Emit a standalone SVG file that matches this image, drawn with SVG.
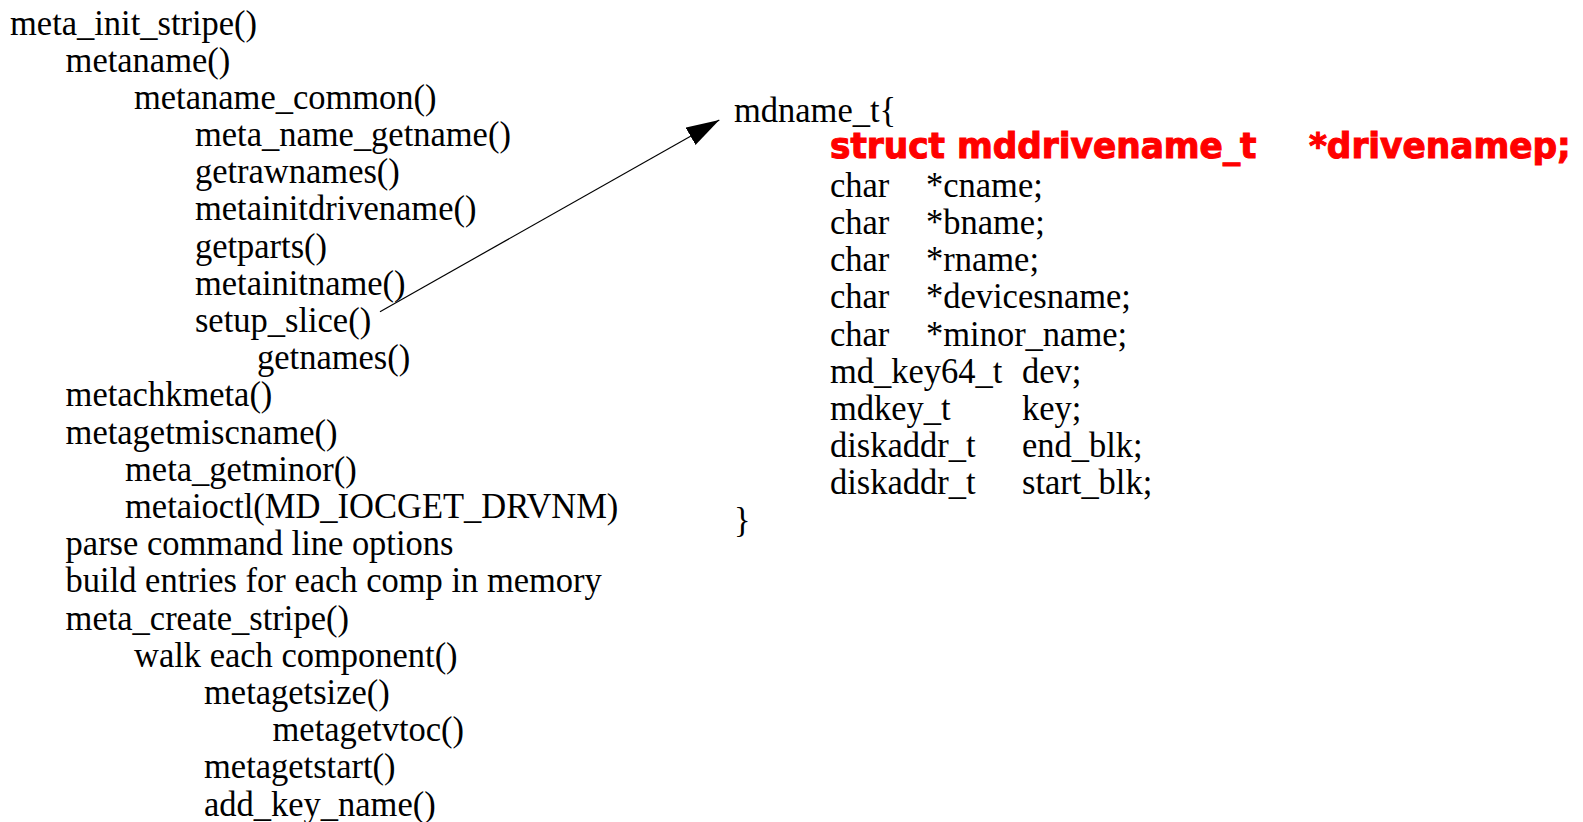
<svg xmlns="http://www.w3.org/2000/svg" width="1583" height="822" viewBox="0 0 1583 822">
  <style>
    .t { font-family: "Liberation Serif", "Times New Roman", serif; font-size: 36.5px; fill: #000; }
    .hl { font-family: "DejaVu Sans", "Liberation Sans", sans-serif; font-weight: bold; font-size: 36px; fill: #ff0000; stroke: #ff0000; stroke-width: 1.1px; }
    .conn { stroke: #000; stroke-width: 1.2; fill: none; }
  </style>
  <defs>
    <marker id="arrowhead" markerUnits="userSpaceOnUse" markerWidth="34" markerHeight="21" refX="33" refY="10" orient="auto">
      <path d="M0,0 L33,10 L0,20 Z" fill="#000"/>
    </marker>
  </defs>
  <rect width="1583" height="822" fill="#fff"/>

  <!-- call tree (condensed serif: x coordinates are pre-divided by 0.945) -->
  <g id="call-tree" transform="translate(0 2.5) scale(0.945 1)">
    <g id="n-meta-init-stripe"><text class="t" x="10.6" y="32">meta_init_stripe()</text></g>
    <g id="n-metaname"><text class="t" x="69.4" y="69.2">metaname()</text></g>
    <g id="n-metaname-common"><text class="t" x="141.8" y="106.4">metaname_common()</text></g>
    <g id="n-meta-name-getname"><text class="t" x="206.3" y="143.6">meta_name_getname()</text></g>
    <g id="n-getrawnames"><text class="t" x="206.3" y="180.8">getrawnames()</text></g>
    <g id="n-metainitdrivename"><text class="t" x="206.3" y="218">metainitdrivename()</text></g>
    <g id="n-getparts"><text class="t" x="206.3" y="255.2">getparts()</text></g>
    <g id="n-metainitname"><text class="t" x="206.3" y="292.4">metainitname()</text></g>
    <g id="n-setup-slice"><text class="t" x="206.3" y="329.6">setup_slice()</text></g>
    <g id="n-getnames"><text class="t" x="272" y="366.8">getnames()</text></g>
    <g id="n-metachkmeta"><text class="t" x="69.4" y="404">metachkmeta()</text></g>
    <g id="n-metagetmiscname"><text class="t" x="69.4" y="441.2">metagetmiscname()</text></g>
    <g id="n-meta-getminor"><text class="t" x="132.3" y="478.4">meta_getminor()</text></g>
    <g id="n-metaioctl"><text class="t" x="132.3" y="515.6">metaioctl(MD_IOCGET_DRVNM)</text></g>
    <g id="n-parse-options"><text class="t" x="69.4" y="552.8">parse command line options</text></g>
    <g id="n-build-entries"><text class="t" x="69.4" y="590">build entries for each comp in memory</text></g>
    <g id="n-meta-create-stripe"><text class="t" x="69.4" y="627.2">meta_create_stripe()</text></g>
    <g id="n-walk-component"><text class="t" x="141.8" y="664.4">walk each component()</text></g>
    <g id="n-metagetsize"><text class="t" x="215.9" y="701.6">metagetsize()</text></g>
    <g id="n-metagetvtoc"><text class="t" x="288.4" y="738.8">metagetvtoc()</text></g>
    <g id="n-metagetstart"><text class="t" x="215.9" y="776">metagetstart()</text></g>
    <g id="n-add-key-name"><text class="t" x="215.9" y="813.2">add_key_name()</text></g>
  </g>

  <!-- mdname_t structure -->
  <g id="n-mdname-t">
    <g transform="translate(0 2) scale(0.945 1)">
      <text class="t" x="776.7" y="120.5">mdname_t{</text>
      <text class="t" x="878.3" y="194.9">char</text><text class="t" x="979.9" y="194.9">*cname;</text>
      <text class="t" x="878.3" y="232.1">char</text><text class="t" x="979.9" y="232.1">*bname;</text>
      <text class="t" x="878.3" y="269.3">char</text><text class="t" x="979.9" y="269.3">*rname;</text>
      <text class="t" x="878.3" y="306.5">char</text><text class="t" x="979.9" y="306.5">*devicesname;</text>
      <text class="t" x="878.3" y="343.7">char</text><text class="t" x="979.9" y="343.7">*minor_name;</text>
      <text class="t" x="878.3" y="380.9">md_key64_t</text><text class="t" x="1081.5" y="380.9">dev;</text>
      <text class="t" x="878.3" y="418.1">mdkey_t</text><text class="t" x="1081.5" y="418.1">key;</text>
      <text class="t" x="878.3" y="455.3">diskaddr_t</text><text class="t" x="1081.5" y="455.3">end_blk;</text>
      <text class="t" x="878.3" y="492.5">diskaddr_t</text><text class="t" x="1081.5" y="492.5">start_blk;</text>
      <text class="t" x="776.7" y="529.7">}</text>
    </g>
    <g transform="scale(0.954 1)">
      <text class="hl" x="870" y="158.3">struct mddrivename_t</text>
      <text class="hl" x="1372" y="158.3">*drivenamep;</text>
    </g>
  </g>

  <!-- connectors -->
  <g id="connectors">
    <line class="conn" x1="380" y1="311.7" x2="719.3" y2="120" marker-end="url(#arrowhead)"/>
  </g>
</svg>
